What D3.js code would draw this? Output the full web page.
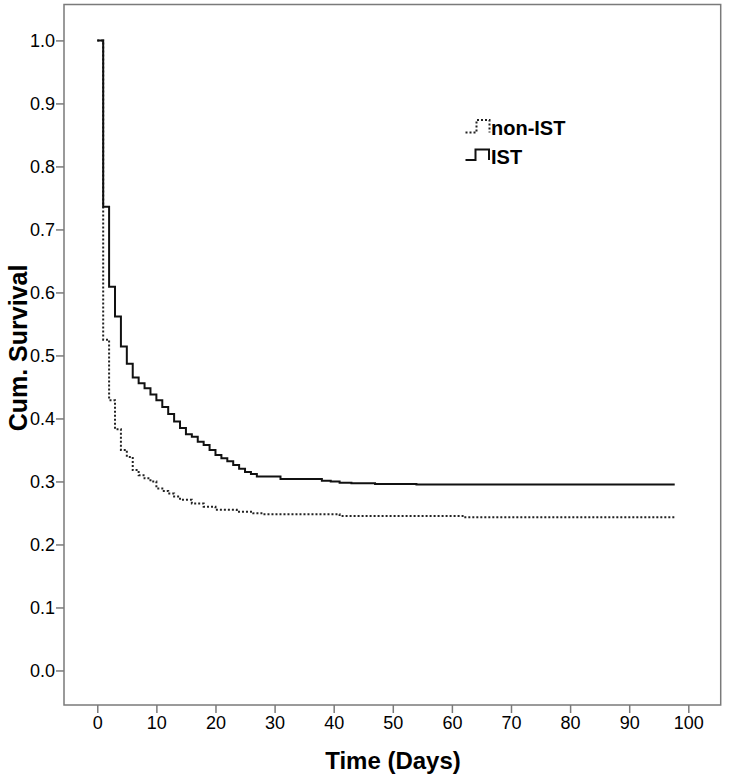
<!DOCTYPE html>
<html>
<head>
<meta charset="utf-8">
<script src="https://cdn.jsdelivr.net/npm/d3@7"></script>
<style>
  body { margin: 0; background: #fff; }
  text { font-family: Arial, "Liberation Sans", sans-serif; fill: #000; }
</style>
</head>
<body>
<div id="km-chart"></div>
<script>
// Dados (Kaplan-Meier, passos)
var xTicks = [0, 10, 20, 30, 40, 50, 60, 70, 80, 90, 100];
var yTicks = [0.0, 0.1, 0.2, 0.3, 0.4, 0.5, 0.6, 0.7, 0.8, 0.9, 1.0];

var istDays = [0, 1, 2, 3, 4, 5, 6, 7, 8, 9, 10, 11, 12, 13, 14, 15, 16, 17, 18, 19, 20,
  21, 22, 23, 24, 25, 26, 27, 31, 38, 39.5, 41, 43, 47, 54, 97.7];
var istSurv = [1.0, 0.736, 0.609, 0.562, 0.514, 0.487, 0.465, 0.456, 0.448, 0.438, 0.429,
  0.418, 0.407, 0.395, 0.385, 0.375, 0.371, 0.363, 0.358, 0.350, 0.342,
  0.337, 0.332, 0.326, 0.320, 0.315, 0.312, 0.308, 0.304, 0.301, 0.300, 0.298, 0.297, 0.296, 0.295, 0.295];

var nonDays = [0, 1, 2, 3, 4, 5, 6, 7, 8, 9, 10, 11, 12, 13, 14, 16, 18, 20, 23.6, 26.4, 28, 41, 62, 97.7];
var nonSurv = [1.0, 0.525, 0.429, 0.383, 0.350, 0.339, 0.318, 0.310, 0.305, 0.300, 0.289,
  0.285, 0.281, 0.276, 0.271, 0.265, 0.260, 0.255, 0.252, 0.2495, 0.248, 0.245, 0.243, 0.243];

var seriesNames = ["non-IST", "IST"];

(function () {
  'use strict';
  var W = 729, H = 781;
  var box = {left: 64, top: 4.5, right: 720.7, bottom: 705};

  var svg = d3.select("#km-chart").append("svg")
    .attr("width", W)
    .attr("height", H);

  // Escalas
  var x = d3.scaleLinear().domain([-5.63, 105.48]).range([box.left, box.right]);
  var y = d3.scaleLinear().domain([-0.0548, 1.057]).range([box.bottom, box.top]);

  // Moldura
  svg.append("rect")
    .attr("x", box.left).attr("y", box.top)
    .attr("width", box.right - box.left).attr("height", box.bottom - box.top)
    .attr("fill", "none").attr("stroke", "#7a7a7a").attr("stroke-width", 1.5);

  // Eixo X
  var gx = svg.append("g")
    .attr("transform", "translate(0," + box.bottom + ")")
    .call(d3.axisBottom(x).tickValues(xTicks).tickSize(8).tickPadding(3).tickSizeOuter(0));
  gx.select(".domain").remove();
  gx.selectAll("line").attr("stroke", "#7a7a7a").attr("stroke-width", 1.5);
  gx.selectAll("text").attr("font-size", 18);

  // Eixo Y
  var gy = svg.append("g")
    .attr("transform", "translate(" + box.left + ",0)")
    .call(d3.axisLeft(y).tickValues(yTicks).tickFormat(d3.format(".1f")).tickSize(8).tickPadding(1));
  gy.select(".domain").remove();
  gy.selectAll("line").attr("stroke", "#7a7a7a").attr("stroke-width", 1.5);
  gy.selectAll("text").attr("font-size", 18);

  // Títulos
  svg.append("text")
    .attr("x", 393).attr("y", 769)
    .attr("text-anchor", "middle")
    .attr("font-size", 24).attr("font-weight", "bold")
    .text("Time (Days)");
  svg.append("text")
    .attr("transform", "translate(27,348) rotate(-90)")
    .attr("text-anchor", "middle")
    .attr("font-size", 25).attr("font-weight", "bold")
    .text("Cum. Survival");

  // Curvas
  var line = d3.line()
    .x(function (d) { return x(d[0]); })
    .y(function (d) { return y(d[1]); })
    .curve(d3.curveStepAfter);

  var nonData = d3.zip(nonDays, nonSurv);
  var istData = d3.zip(istDays, istSurv);

  svg.append("path")
    .datum(nonData)
    .attr("d", line)
    .attr("fill", "none").attr("stroke", "#222").attr("stroke-width", 2)
    .attr("stroke-dasharray", "2,2");
  svg.append("path")
    .datum(istData)
    .attr("d", line)
    .attr("fill", "none").attr("stroke", "#111").attr("stroke-width", 2);

  // Legenda
  var legend = svg.append("g");
  var stepSym = function (x0, yLow, yHigh, xMid, x1) {
    return "M" + x0 + "," + yLow + "H" + xMid + "V" + yHigh + "H" + x1 + "V" + yLow;
  };
  legend.append("path")
    .attr("d", stepSym(465.5, 132.5, 120, 476.5, 489.5))
    .attr("fill", "none").attr("stroke", "#222").attr("stroke-width", 2)
    .attr("stroke-dasharray", "2,2");
  legend.append("path")
    .attr("d", stepSym(465.5, 160, 149.5, 475.5, 489))
    .attr("fill", "none").attr("stroke", "#111").attr("stroke-width", 2);
  legend.append("text")
    .attr("x", 491).attr("y", 135)
    .attr("font-size", 20).attr("font-weight", "bold")
    .text(seriesNames[0]);
  legend.append("text")
    .attr("x", 491).attr("y", 164)
    .attr("font-size", 20).attr("font-weight", "bold")
    .text(seriesNames[1]);
})();
</script>
</body>
</html>
